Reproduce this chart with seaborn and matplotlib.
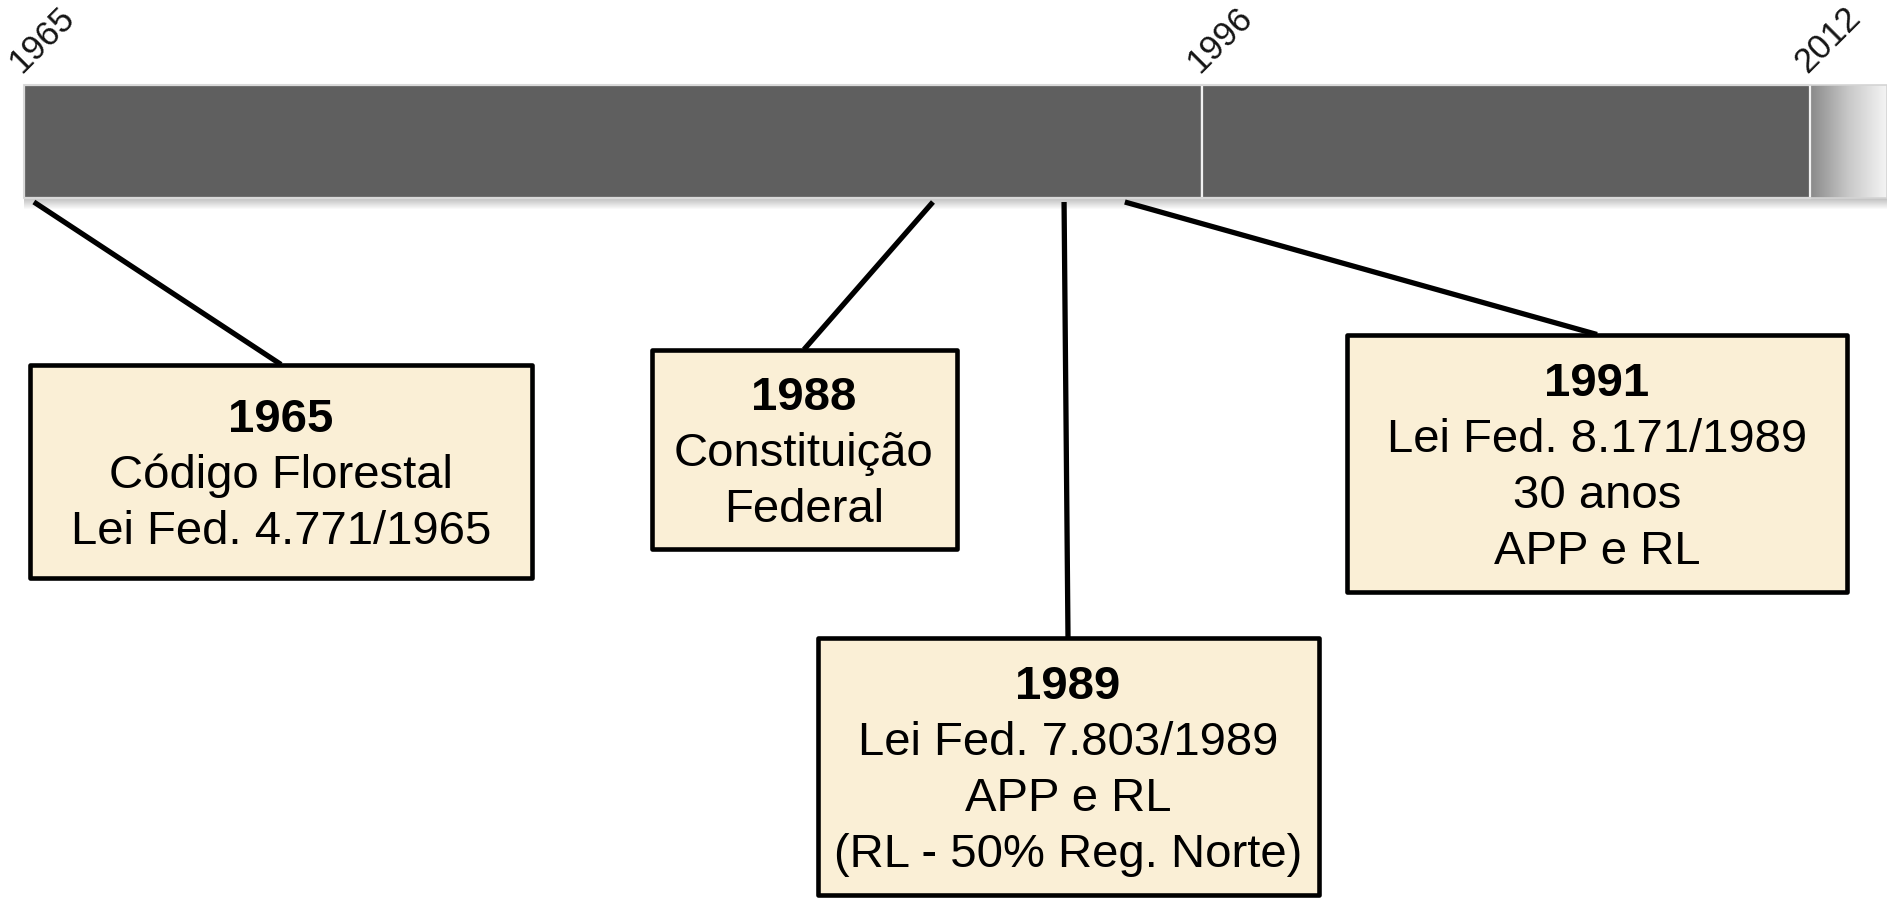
#!/usr/bin/env python
# -*- coding: utf-8 -*-

""" Linha do tempo da legislação florestal brasileira (1965-2012).

Usage: python plot.py
Output: out.png
"""

import numpy as np
import matplotlib as mpl
mpl.use('Agg')

import matplotlib.pyplot as plt
from matplotlib.patches import Rectangle
from matplotlib.colors import LinearSegmentedColormap
import seaborn as sns

# ---- data -------------------------------------------------------------
period_starts = [1965, 1996]
period_ends = [1996, 2012]
tick_years = [1965, 1996, 2012]
tick_labels = ['1965', '1996', '2012']

event_titles = ['1965', '1988', '1989', '1991']
event_bodies = [
    ['Código Florestal', 'Lei Fed. 4.771/1965'],
    ['Constituição', 'Federal'],
    ['Lei Fed. 7.803/1989', 'APP e RL', '(RL - 50% Reg. Norte)'],
    ['Lei Fed. 8.171/1989', '30 anos', 'APP e RL'],
]
# where each connector leaves the bar (in years)
event_anchor = [1965.26, 1988.92, 1992.37, 1993.97]

# ---- layout (pixels of the 1887x898 canvas) ---------------------------
W, H = 1887, 898
X0_PX, PX_PER_YEAR = 24, 38.0
BAR_TOP, BAR_BOT = 85, 198
# box centre x, centre y, width, height
boxes = [(281, 471, 502, 213), (804, 449, 305, 199),
         (1068, 766, 501, 257), (1597, 463, 500, 257)]
LINE_GAP = 56


def yr(px):
    return 1965 + (px - X0_PX) / PX_PER_YEAR


def main():
    sns.set_style('white')
    plt.rcParams['font.family'] = ['Liberation Sans', 'DejaVu Sans']

    fig = plt.figure(figsize=(W / 100, H / 100), dpi=100)
    ax = fig.add_axes([0, 0, 1, 1])
    ax.set_xlim(yr(0), yr(W))
    ax.set_ylim(H, 0)
    ax.axis('off')

    bar_c = (BAR_TOP + BAR_BOT) / 2
    bar_h = BAR_BOT - BAR_TOP

    # soft shadow under the bar
    shade = np.linspace(0.55, 0, 12).reshape(-1, 1)
    ax.imshow(shade, extent=(yr(X0_PX), yr(W), BAR_BOT + 12, BAR_BOT),
              cmap=LinearSegmentedColormap.from_list('sh', ['white', '#8c8c8c']),
              vmin=0, vmax=1, aspect='auto', zorder=1, interpolation='bilinear')

    # fading tail after the last period
    fade = np.linspace(0, 1, 64).reshape(1, -1)
    ax.imshow(fade, extent=(period_ends[-1], yr(W), BAR_BOT, BAR_TOP),
              cmap=LinearSegmentedColormap.from_list('fd', ['#8a8a8a', '#c8c8c8', '#f4f4f4']),
              aspect='auto', zorder=2, interpolation='bilinear')

    widths = [e - s for s, e in zip(period_starts, period_ends)]
    ax.barh(bar_c, widths, left=period_starts, height=bar_h,
            color='#5f5f5f', edgecolor='#f2f2f2', linewidth=1.6, zorder=3)
    ax.barh(bar_c, yr(W) - period_starts[0], left=period_starts[0], height=bar_h,
            facecolor='none', edgecolor='#d4d4d4', linewidth=1.2, zorder=4)

    for y, lab in zip(tick_years, tick_labels):
        ax.annotate(lab, xy=(y, BAR_TOP), xytext=(-3, 11), textcoords='offset pixels',
                    rotation=45, rotation_mode='anchor', ha='left', va='baseline',
                    fontsize=25, color='#151515')

    for title, body, anc, (cx, cy, bw, bh) in zip(event_titles, event_bodies,
                                                  event_anchor, boxes):
        top = cy - bh / 2
        ax.plot([anc, yr(cx)], [BAR_BOT + 4, top], color='black', lw=3.8,
                solid_capstyle='butt', zorder=5)
        ax.add_patch(Rectangle((yr(cx - bw / 2), top), bw / PX_PER_YEAR, bh,
                               facecolor='#faefd6', edgecolor='black', lw=3.3,
                               joinstyle='round', zorder=6))
        lines = [title] + body
        n = len(lines)
        for i, txt in enumerate(lines):
            ty = cy + (i - (n - 1) / 2) * LINE_GAP
            ax.text(yr(cx), ty, txt, ha='center', va='center_baseline',
                    fontsize=34, color='black', zorder=7,
                    fontweight='bold' if i == 0 else 'normal')

    plt.savefig('out.png', dpi=100)


if __name__ == '__main__':
    main()
